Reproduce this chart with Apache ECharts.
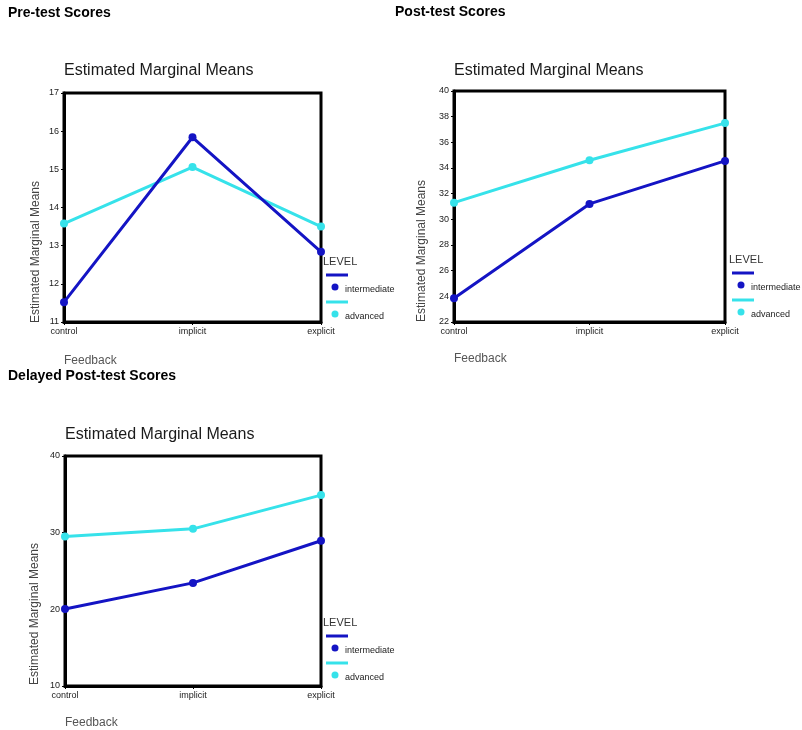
<!DOCTYPE html>
<html>
<head>
<meta charset="utf-8">
<script src="https://cdn.jsdelivr.net/npm/echarts@6/dist/echarts.min.js"></script>
<style>
html,body{margin:0;padding:0;background:#fff;}
#main{width:802px;height:730px;}
</style>
</head>
<body>
<div id="main"></div>
<script>
// ---- data ----
var categories = ['control', 'implicit', 'explicit'];
var seriesNames = ['intermediate', 'advanced'];
var panelTitles = ['Pre-test Scores', 'Post-test Scores', 'Delayed Post-test Scores'];
var preIntermediate = [11.52, 15.84, 12.84];
var preAdvanced = [13.58, 15.06, 13.5];
var postIntermediate = [23.85, 31.2, 34.55];
var postAdvanced = [31.3, 34.6, 37.5];
var delayedIntermediate = [20.05, 23.45, 28.95];
var delayedAdvanced = [29.5, 30.5, 34.9];
var yMins = [11, 22, 10];
var yMaxs = [17, 40, 40];
var yIntervals = [1, 2, 10];

// ---- layout / style ----
var colInter = '#1414c4';
var colAdv = '#36e2ea';
var font = 'Arial, "Liberation Sans", sans-serif';
var grids = [
  {left: 64, top: 93, width: 257, height: 229},
  {left: 454, top: 91, width: 271, height: 231},
  {left: 65, top: 456, width: 256, height: 230}
];
var panelTitlePos = [[8, 14], [395, 13], [8, 377]];
var emmTitlePos = [[64, 72], [454, 72], [65, 436]];
var yNamePos = [[36, 252], [422, 251], [35, 614]];
var feedbackPos = [[64, 361], [454, 359], [65, 723]];
var legendPos = [[323, 262], [729, 260], [323, 623]];
var dataSets = [
  [preIntermediate, preAdvanced],
  [postIntermediate, postAdvanced],
  [delayedIntermediate, delayedAdvanced]
];

var option = {
  backgroundColor: '#fff',
  animation: false,
  grid: [], xAxis: [], yAxis: [], series: [], graphic: []
};

grids.forEach(function (g, i) {
  option.grid.push({left: g.left, top: g.top, width: g.width, height: g.height,
    show: true, borderColor: '#000', borderWidth: 3, backgroundColor: 'transparent', containLabel: false});
  option.xAxis.push({
    type: 'category', gridIndex: i, data: categories, boundaryGap: false,
    axisLine: {lineStyle: {color: '#000', width: 3}},
    axisTick: {show: true, length: 3, lineStyle: {color: '#000', width: 1}},
    axisLabel: {fontSize: 9, color: '#222', fontFamily: font, margin: 5}
  });
  option.yAxis.push({
    type: 'value', gridIndex: i, min: yMins[i], max: yMaxs[i], interval: yIntervals[i],
    axisLine: {show: true, lineStyle: {color: '#000', width: 3}},
    axisTick: {show: true, length: 3, lineStyle: {color: '#000', width: 1}},
    splitLine: {show: false},
    axisLabel: {fontSize: 9, color: '#222', fontFamily: font, margin: 5}
  });
  var cols = [colInter, colAdv];
  dataSets[i].forEach(function (d, k) {
    option.series.push({
      type: 'line', name: seriesNames[k], xAxisIndex: i, yAxisIndex: i, data: d,
      symbol: 'circle', symbolSize: 8, showSymbol: true,
      lineStyle: {color: cols[k], width: 3},
      itemStyle: {color: cols[k]}, z: k === 0 ? 3 : 2
    });
  });

  // panel title
  option.graphic.push({type: 'text', left: panelTitlePos[i][0], top: panelTitlePos[i][1] - 8,
    style: {text: panelTitles[i], font: 'bold 14px ' + font, fill: '#000'}});
  // chart title
  option.graphic.push({type: 'text', left: emmTitlePos[i][0], top: emmTitlePos[i][1] - 9,
    style: {text: 'Estimated Marginal Means', font: '16px ' + font, fill: '#1a1a1a'}});
  // y axis name
  option.graphic.push({type: 'text', x: yNamePos[i][0], y: yNamePos[i][1], rotation: Math.PI / 2,
    style: {text: 'Estimated Marginal Means', font: '12px ' + font, fill: '#444',
      textAlign: 'center', textVerticalAlign: 'middle'}});
  // x axis name
  option.graphic.push({type: 'text', x: feedbackPos[i][0], y: feedbackPos[i][1],
    style: {text: 'Feedback', font: '12px ' + font, fill: '#555',
      textAlign: 'left', textVerticalAlign: 'middle'}});
  // legend
  var lx = legendPos[i][0], ly = legendPos[i][1];
  option.graphic.push({type: 'text', x: lx, y: ly,
    style: {text: 'LEVEL', font: '11px ' + font, fill: '#333', textAlign: 'left', textVerticalAlign: 'middle'}});
  seriesNames.forEach(function (nm, k) {
    var oy = ly + 13 + k * 27;
    option.graphic.push({type: 'line', shape: {x1: lx + 3, y1: oy, x2: lx + 25, y2: oy},
      style: {stroke: cols[k], lineWidth: 3}});
    option.graphic.push({type: 'circle', shape: {cx: lx + 12, cy: oy + 12, r: 3.5},
      style: {fill: cols[k]}});
    option.graphic.push({type: 'text', x: lx + 22, y: oy + 15,
      style: {text: nm, font: '9px ' + font, fill: '#222', textAlign: 'left', textVerticalAlign: 'middle'}});
  });
});

var chart = echarts.init(document.getElementById('main'), null, {renderer: 'canvas'});
chart.setOption(option);
</script>
</body>
</html>
